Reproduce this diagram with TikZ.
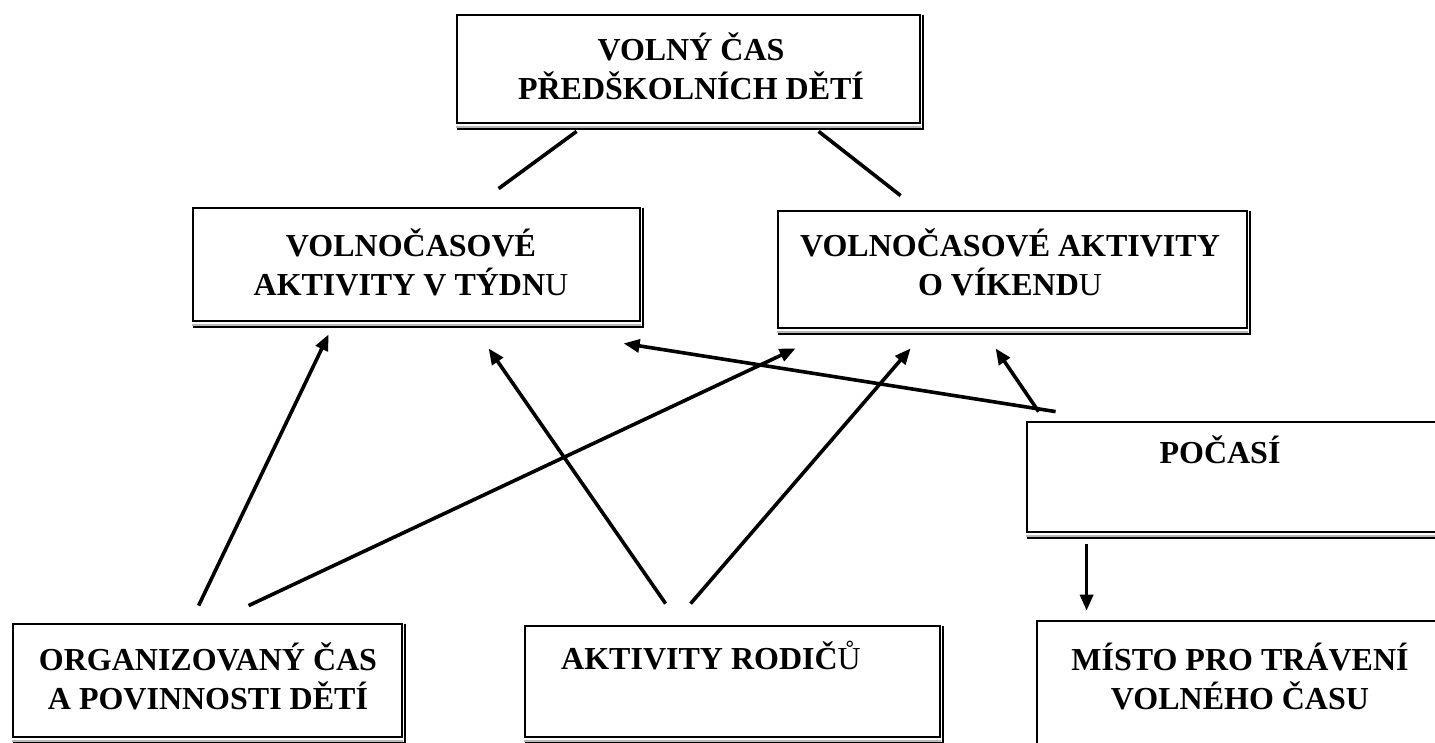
\documentclass[tikz,border=0pt]{standalone}
\usepackage{fontspec}
\setmainfont{Liberation Serif}
\usetikzlibrary{arrows.meta,calc}
\tikzset{
  boxnode/.style={draw, line width=2.8pt, rectangle, inner sep=0pt},
  txt/.style={align=center, inner sep=0pt, font=\fontsize{32}{39}\selectfont\bfseries},
  conn/.style={line width=3.6pt},
  arr/.style={line width=3.6pt, -{Triangle[length=16pt,width=13pt]}},
  shd/.style={line width=2.4pt},
  shdg/.style={line width=1.6pt, gray!55}
}
\newcommand{\mkbox}[5]{% name, x1, y1, x2, y2
  \node[boxnode, minimum width={#4-#2}, minimum height={#5-#3}] (#1) at ({(#2+#4)/2},{(#3+#5)/2}) {};
  \draw[shdg] ([yshift=-2.6pt]#1.south west) -- ([yshift=-2.6pt]#1.south east);
  \draw[shd] ([xshift=1.6pt,yshift=-1pt]#1.north east) -- ([xshift=1.6pt,yshift=-4.8pt]#1.south east) -- ([xshift=1pt,yshift=-4.8pt]#1.south west);
}
\begin{document}
\begin{tikzpicture}[x=1pt,y=-1pt]
\useasboundingbox (0,0) rectangle (1435,743);
\fill[white] (0,0) rectangle (1435,743);
% boxes
\mkbox{top}{457}{15}{920}{123}
\mkbox{wd}{193}{208}{640}{321}
\mkbox{we}{778}{211}{1247}{328}
\mkbox{po}{1027}{422}{1450}{532}
\mkbox{org}{13}{624}{402}{737}
\mkbox{rod}{525}{626}{940}{737}
\mkbox{mi}{1037}{621}{1450}{770}
% texts
\node[txt] (topt) at (691,66) {VOLNÝ ČAS\\PŘEDŠKOLNÍCH DĚTÍ};
\node[txt] (wdt) at (411,262) {VOLNOČASOVÉ\\AKTIVITY V TÝDN{\mdseries U}};
\node[txt] (wet) at (1010,262) {VOLNOČASOVÉ AKTIVITY\\O VÍKEND{\mdseries U}};
\node[txt] (pot) at (1220,450) {POČASÍ};
\node[txt] (orgt) at (208,676) {ORGANIZOVANÝ ČAS\\A POVINNOSTI DĚTÍ};
\node[txt] (rodt) at (711,656) {AKTIVITY RODIČ{\mdseries Ů}};
\node[txt] (mit) at (1240,677) {MÍSTO PRO TRÁVENÍ\\VOLNÉHO ČASU};
% connectors
\draw[conn] ($(top.south west)+(121,7)$) -- ($(wd.north west)+(307,-18)$);
\draw[conn] ($(top.south west)+(363,7)$) -- ($(we.north west)+(124,-14)$);
\draw[arr] ($(org.north west)+(187,-17)$) -- ($(wd.south west)+(137,12)$);
\draw[arr] ($(org.north west)+(237,-17)$) -- ($(we.south west)+(19,19)$);
\draw[arr] ($(rod.north west)+(142,-21)$) -- ($(wd.south west)+(297,26)$);
\draw[arr] ($(rod.north west)+(167,-21)$) -- ($(we.south west)+(134,19)$);
\draw[arr] ($(po.north west)+(30,-9)$) -- ($(wd.south west)+(432,21)$);
\draw[arr] ($(po.north west)+(13,-9)$) -- ($(we.south west)+(219,19)$);
\draw[arr] ($(po.south west)+(61,11)$) -- ($(mi.north west)+(51,-9)$);
\end{tikzpicture}
\end{document}
